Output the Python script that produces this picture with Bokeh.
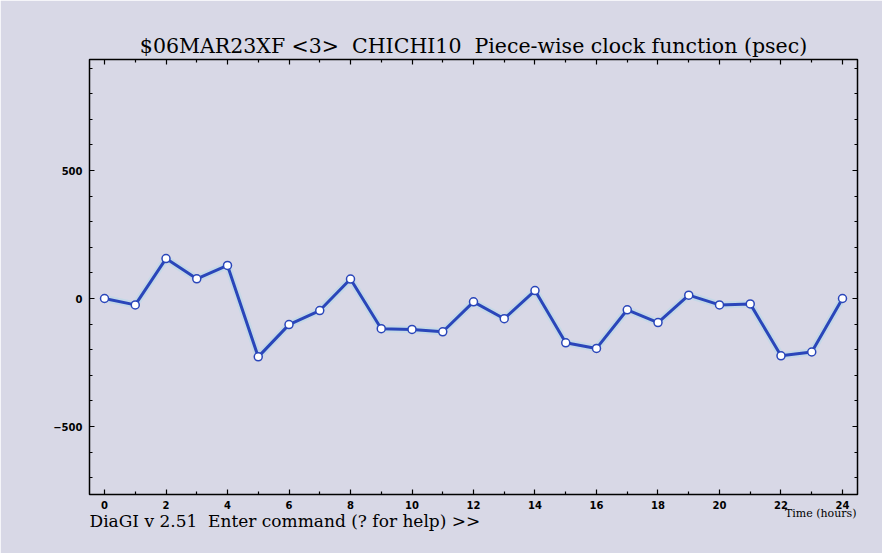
from bokeh.plotting import figure
from bokeh.models import Range1d, LinearAxis, FixedTicker, Title
from bokeh.embed import file_html
from bokeh.resources import INLINE

# Data
hours = [0, 1, 2, 3, 4, 5, 6, 7, 8, 9, 10, 11, 12, 13, 14, 15, 16, 17, 18, 19, 20, 21, 22, 23, 24]
clock_psec = [0, -25, 156, 77, 129, -228, -102, -47, 76, -118, -121, -130, -13, -79,
              31, -173, -195, -44, -94, 13, -25, -21, -224, -209, 0]
x_major = [0, 2, 4, 6, 8, 10, 12, 14, 16, 18, 20, 22, 24]
x_minor = [1, 3, 5, 7, 9, 11, 13, 15, 17, 19, 21, 23]
y_major = [-500, 0, 500]
y_minor = [-700, -600, -400, -300, -200, -100, 100, 200, 300, 400, 600, 700, 800, 900]

title_text = "$06MAR23XF <3> \u00a0CHICHI10 \u00a0Piece-wise clock function (psec)"
footer_text = "DiaGI v 2.51 \u00a0Enter command (? for help) >>"
xlabel_text = "Time (hours)"

BG = "#d8d8e6"
LINE = "#2a46ba"

W, H = 882, 553
p = figure(width=W, height=H, output_backend="svg", toolbar_location=None,
           x_range=Range1d(-0.488, 24.488), y_range=Range1d(-765.6, 933.6),
           min_border_left=89, min_border_right=25, min_border_top=59, min_border_bottom=59,
           x_axis_type=None, y_axis_type=None)
p.background_fill_color = BG
p.border_fill_color = BG
p.outline_line_color = "black"
p.outline_line_width = 1.5
p.grid.visible = False

def make_axis(ticks, minor, show_labels, standoff):
    ax = LinearAxis(ticker=FixedTicker(ticks=ticks, minor_ticks=minor))
    ax.axis_line_color = None
    ax.major_tick_in = 5
    ax.major_tick_out = 0
    ax.minor_tick_in = 3
    ax.minor_tick_out = 0
    ax.major_tick_line_color = "black"
    ax.minor_tick_line_color = "black"
    ax.major_tick_line_width = 1.2
    ax.minor_tick_line_width = 1.2
    ax.major_label_text_font = "DejaVu Sans"
    ax.major_label_text_font_style = "bold"
    ax.major_label_text_font_size = "10px"
    ax.major_label_text_color = "black"
    ax.major_label_standoff = standoff
    if not show_labels:
        ax.major_label_text_font_size = "0px"
        ax.major_label_text_color = None
        ax.major_label_standoff = 0
    return ax

p.add_layout(make_axis(x_major, x_minor, True, 6), "below")
p.add_layout(Title(text=xlabel_text, align="right", text_font="DejaVu Serif",
                   text_font_size="11px", text_font_style="normal", text_color="black",
                   standoff=-13, offset=1), "below")
p.add_layout(Title(text=footer_text, align="left", text_font="DejaVu Serif",
                   text_font_size="17px", text_font_style="normal", text_color="black",
                   standoff=-9), "below")
p.add_layout(make_axis(x_major, x_minor, False, 0), "above")
p.add_layout(make_axis(y_major, y_minor, True, 7), "left")
p.add_layout(make_axis(y_major, y_minor, False, 0), "right")

p.title.text = title_text
p.title.align = "center"
p.title.text_font = "DejaVu Serif"
p.title.text_font_size = "20.5px"
p.title.text_font_style = "normal"
p.title.text_color = "black"
p.title.standoff = 4

# faint glow under the line
p.line(hours, clock_psec, line_color="#b8d8e8", line_width=7, line_alpha=0.6)
p.line(hours, clock_psec, line_color=LINE, line_width=3)
p.scatter(hours, clock_psec, size=8, marker="circle", fill_color="white",
          line_color=LINE, line_width=1.5)

html = file_html(p, INLINE)
html = html.replace("<body>", '<body style="background:%s">' % BG, 1)
open("out.html", "w").write(html)
